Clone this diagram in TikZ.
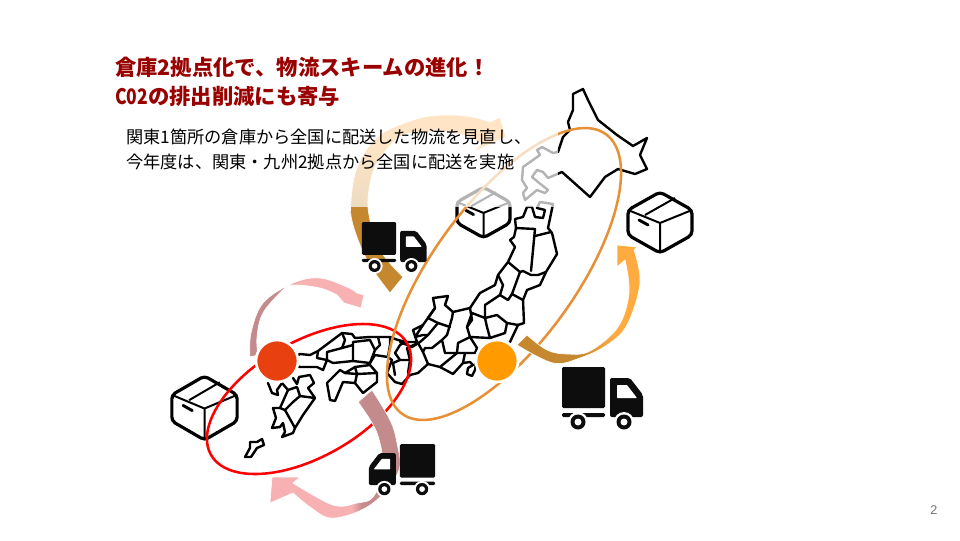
\documentclass[tikz,border=0pt]{standalone}
\usepackage{fontspec}
\setmainfont{Noto Sans CJK JP}
\newfontfamily\numfont{Liberation Sans}
\usepackage{tikz}
\definecolor{titlered}{HTML}{990000}
\definecolor{arrowbrown}{HTML}{C6882F}
\definecolor{arroworange}{HTML}{FFAB40}
\definecolor{arrowdusty}{HTML}{C48B8C}
\definecolor{arrowpink}{HTML}{F8B1B3}
\definecolor{ringorange}{HTML}{E69138}
\definecolor{dotred}{HTML}{E8410F}
\definecolor{dotorange}{HTML}{FF9B00}
\pgfdeclareverticalshading{topshade}{100bp}{color(0bp)=(arrowbrown); color(49bp)=(arrowbrown); color(68bp)=(arroworange); color(100bp)=(arroworange)}
\pgfdeclarehorizontalshading{rightshade}{100bp}{color(0bp)=(arrowbrown); color(50bp)=(arrowbrown); color(64bp)=(arroworange); color(100bp)=(arroworange)}
\pgfdeclarehorizontalshading{leftshade}{100bp}{color(0bp)=(arrowdusty); color(36bp)=(arrowdusty); color(47bp)=(arrowpink); color(100bp)=(arrowpink)}
\pgfdeclarehorizontalshading{bottomshade}{100bp}{color(0bp)=(arrowpink); color(56bp)=(arrowpink); color(60bp)=(arrowdusty); color(100bp)=(arrowdusty)}
\tikzset{
	mapline/.style={draw=black, line width=1.8pt, line join=round, line cap=round},
	ring/.style={line width=1.9pt},
	swoosh/.style={draw=white, line width=.5pt},
	dot/.style={circle, draw=white, line width=2pt, minimum size=31.5pt, inner sep=0pt},
	label/.style={anchor=west, inner sep=0pt},
	boxpic/.pic={
		\draw[line width=2.4pt, rounded corners=3pt] (0,-30.5) -- (32,-12.5) -- (32,12.5) -- (0,30.5) -- (-32,12.5) -- (-32,-12.5) -- cycle;
		\draw[line width=1.5pt] (-32,-12.5) -- (0,.5) -- (32,-12.5) (0,.5) -- (0,30.5) (-15,-7.5) -- (15,-24.5);
		\draw[line width=2.2pt, line cap=round] (-21,-2.5) -- (-12,2.5);
	},
	truckpic/.pic={
		\fill[rounded corners=1pt, fill=black!95] (1,0) rectangle (44,41);
		\fill[rounded corners=1pt, fill=black!95] (1,46) rectangle (44,50);
		\fill[rounded corners=1.5pt, fill=black!95] (49,11) -- (69,11) -- (82,28) -- (82,50) -- (49,50) -- cycle;
		\fill[white, rounded corners=.5pt] (56,18) -- (66,18) -- (76,31) -- (56,31) -- cycle;
		\foreach \wx in {17,63} {
			\fill[white] (\wx,55) circle [radius=10];
			\fill[black!95] (\wx,55) circle [radius=7.5];
			\fill[white] (\wx,55) circle [radius=3.5];
		}
	},
}
\begin{document}
\begin{tikzpicture}[x=.75pt, y=-.75pt]
	\fill[white] (0,0) rectangle (960,540);
	\useasboundingbox (0,0) rectangle (960,540);
	% Hokkaido
	\draw[mapline] (573,94) -- (583,89) -- (588,100) -- (598,120) -- (617,135) -- (633,146) -- (647,138) -- (640,155) -- (647,169) -- (635,174) -- (618,169) -- (605,177) -- (590,197) -- (562,172) -- (548,178) -- (543,172) -- (537,170) -- (532,177) -- (538,182) -- (548,190) -- (545,193) -- (537,190) -- (525,200) -- (523,193) -- (527,188) -- (522,180) -- (523,167) -- (540,155) -- (537,150) -- (542,147) -- (553,153) -- (558,152) -- (563,137) -- (570,130) -- (568,122) -- (573,110) -- cycle;
	% Honshu
	\draw[mapline] (515,219) -- (523,217) -- (527,207) -- (532,207) -- (535,217) -- (543,218) -- (545,210) -- (537,208) -- (540,202) -- (553,204) -- (548,228) -- (552,233) -- (557,254) -- (546,272) -- (540,285) -- (527,290) -- (523,300) -- (524,323) -- (518,325) -- (510,342) -- (497,355) -- (480,360) -- (476,363) -- (475,370) -- (472,376) -- (467,374) -- (468,368) -- (473,365) -- (470,362) -- (463,363) -- (453,374) -- (440,367) -- (428,364) -- (418,373) -- (410,375) -- (402,384) -- (395,382) -- (387,373) -- (392,360) -- (388,357) -- (375,355) -- (370,363) -- (353,361) -- (333,363) -- (327,360) -- (323,370) -- (317,367) -- (300,367) -- (285,362) -- (300,354) -- (310,355) -- (318,351) -- (330,342) -- (342,333) -- (352,334) -- (355,338) -- (370,337) -- (378,337) -- (390,337) -- (398,340) -- (407,342) -- (417,342) -- (413,330) -- (423,325) -- (435,308) -- (433,298) -- (448,296) -- (445,305) -- (453,312) -- (470,308) -- (472,305) -- (480,293) -- (495,285) -- (498,275) -- (508,262) -- (515,247) -- (510,240) -- (514,237) -- (516,228) -- cycle;
	% Tohoku
	\draw[mapline] (516,228) -- (535,229) -- (531,271);
	\draw[mapline] (535,236) -- (551,232);
	\draw[mapline] (508,262) -- (520,272) -- (523,271) -- (531,275) -- (538,275) -- (546,272);
	\draw[mapline] (498,275) -- (503,285) -- (500,295) -- (508,300) -- (512,294) -- (520,272);
	\draw[mapline] (512,294) -- (523,300);
	% Kanto, Chubu
	\draw[mapline] (500,295) -- (485,305) -- (485,318) -- (497,315) -- (507,323) -- (505,333) -- (490,338) -- (487,327) -- (485,318);
	\draw[mapline] (507,323) -- (518,325);
	\draw[mapline] (485,318) -- (472,313) -- (467,327) -- (470,337) -- (490,338);
	\draw[mapline] (470,308) -- (472,320) -- (467,327);
	\draw[mapline] (470,337) -- (458,343) -- (457,353) -- (440,367);
	\draw[mapline] (457,353) -- (465,353) -- (475,353) -- (477,348) -- (470,337);
	\draw[mapline] (465,353) -- (463,363);
	\draw[mapline] (453,312) -- (452,318) -- (447,335) -- (442,340) -- (445,353) -- (457,353);
	\draw[mapline] (435,308) -- (428,318) -- (438,323) -- (450,327);
	\draw[mapline] (438,323) -- (428,335) -- (420,342) -- (412,347) -- (400,342);
	\draw[mapline] (423,325) -- (415,337) -- (423,335) -- (428,335);
	\draw[mapline] (442,340) -- (432,348) -- (425,348) -- (423,352) -- (428,364);
	% Kinki
	\draw[mapline] (423,352) -- (418,343);
	\draw[mapline] (405,342) -- (400,345) -- (395,353) -- (400,360) -- (393,363) -- (395,375);
	\draw[mapline] (400,360) -- (410,360) -- (407,348) -- (418,343);
	\draw[mapline] (410,360) -- (408,373);
	\draw[mapline] (390,337) -- (390,345) -- (388,357);
	% Chugoku
	\draw[mapline] (353,361) -- (353,345) -- (342,348) -- (327,352) -- (327,360);
	\draw[mapline] (318,351) -- (317,358) -- (327,360);
	\draw[mapline] (342,333) -- (345,340) -- (342,348);
	\draw[mapline] (353,345) -- (353,342) -- (370,340) -- (375,350) -- (370,363);
	\draw[mapline] (378,337) -- (380,345) -- (375,350);
	% Shikoku
	\draw[mapline] (327,383) -- (340,370) -- (345,373) -- (355,367) -- (370,365) -- (377,373) -- (377,382) -- (363,393) -- (355,383) -- (343,382) -- (335,401) -- (330,400) -- cycle;
	\draw[mapline] (345,373) -- (357,374) -- (377,373);
	\draw[mapline] (355,367) -- (357,374) -- (355,383);
	% Kyushu
	\draw[mapline] (268,383) -- (272,393) -- (278,395) -- (277,390) -- (282,383) -- (288,390) -- (280,408) -- (273,408) -- (276,418) -- (272,428) -- (280,427) -- (283,423) -- (285,432) -- (282,437) -- (293,433) -- (295,428) -- (303,415) -- (315,398) -- (308,388) -- (314,383) -- (310,375) -- (299,377) -- (297,384) -- (293,378);
	\draw[mapline] (288,390) -- (297,387) -- (300,396) -- (315,398);
	\draw[mapline] (300,396) -- (293,402) -- (285,410) -- (280,408);
	\draw[mapline] (285,410) -- (295,428);
	% Okinawa
	\draw[mapline] (245,457) -- (250,448) -- (250,442) -- (257,442) -- (262,439) -- (264,445) -- (257,448) -- (251,457) -- cycle;
	% Boxes
	\pic[scale=.83] at (483.5,212.5) {boxpic};
	\pic at (660,222.5) {boxpic};
	\pic[xscale=1.02, yscale=1.05] at (204.5,408) {boxpic};
	% Rings
	\draw[ring, red] (309,399) ellipse [x radius=112.8, y radius=57.6, rotate=29.7];
	\draw[ring, ringorange] (504,274) ellipse [x radius=173, y radius=71.2, rotate=53.9];
	% Arrows
	\shadedraw[swoosh, shading=topshade] plot[smooth, tension=.6] coordinates {(390,293) (368,262) (353,225) (351,200) (358,165) (380,135) (420,118) (450,115) (473,117) (490,122)} -- (500,117) -- (506,137) -- (473,152) -- plot[smooth, tension=.6] coordinates {(482,143) (455,133) (425,132) (400,137) (377,163) (369,190) (369,215) (380,250) (403,277)} -- cycle;
	\shadedraw[swoosh, shading=rightshade] plot[smooth, tension=.6] coordinates {(517,345) (553,363) (580,358) (607,345) (627,325) (640,283) (634,250)} -- (637,247) -- (617,245) -- (617,267) -- plot[smooth, tension=.6] coordinates {(625,260) (629,293) (618,327) (590,351) (567,354) (547,350) (527,335)} -- cycle;
	\shadedraw[swoosh, shading=leftshade] plot[smooth, tension=.6] coordinates {(250,357) (251,333) (263,303) (293,283) (320,278) (347,287) (357,293)} -- (364,295) -- (361,308) -- (344,303) -- plot[smooth, tension=.6] coordinates {(337,295) (320,288) (293,285) (283,290) (263,313) (257,337) (258,355)} -- cycle;
	\shadedraw[swoosh, shading=bottomshade] plot[smooth, tension=.6] coordinates {(372,390) (390,420) (397,443) (399,470) (380,497) (357,512) (330,518) (310,507) (293,493)} -- (270,503) -- (272,477) -- (300,477) -- plot[smooth, tension=.6] coordinates {(293,483) (333,505) (357,503) (373,497) (383,470) (377,433) (358,402)} -- cycle;
	% Hubs
	\node[dot, fill=dotred] (hubwest) at (277,361) {};
	\node[dot, fill=dotorange] (hubeast) at (497,361) {};
	% Trucks
	\pic[scale=.8] at (361,222) {truckpic};
	\pic at (561,367) {truckpic};
	\pic[xscale=-.82, yscale=.82] at (436,444) {truckpic};
	% Veil behind the text
	\fill[white, opacity=.7] (100,40) rectangle (558,207);
	% Text
	\node[label, text=titlered, font=\fontsize{16pt}{20pt}\selectfont\bfseries] (titleone) at (115,67) {倉庫2拠点化で、物流スキームの進化！};
	\node[label, text=titlered, font=\fontsize{16pt}{20pt}\selectfont\bfseries] (titletwo) at (115,96) {\scalebox{.82}[1]{C02}の排出削減にも寄与};
	\node[label, font=\fontsize{12.9pt}{16pt}\selectfont] (bodyone) at (126,137) {関東1箇所の倉庫から全国に配送した物流を見直し、};
	\node[label, font=\fontsize{12.9pt}{16pt}\selectfont] (bodytwo) at (126,162) {今年度は、関東・九州2拠点から全国に配送を実施};
	\node[text=black!55, font=\numfont\fontsize{9.5pt}{11pt}\selectfont] (pagenum) at (934,510) {2};
\end{tikzpicture}
\end{document}
